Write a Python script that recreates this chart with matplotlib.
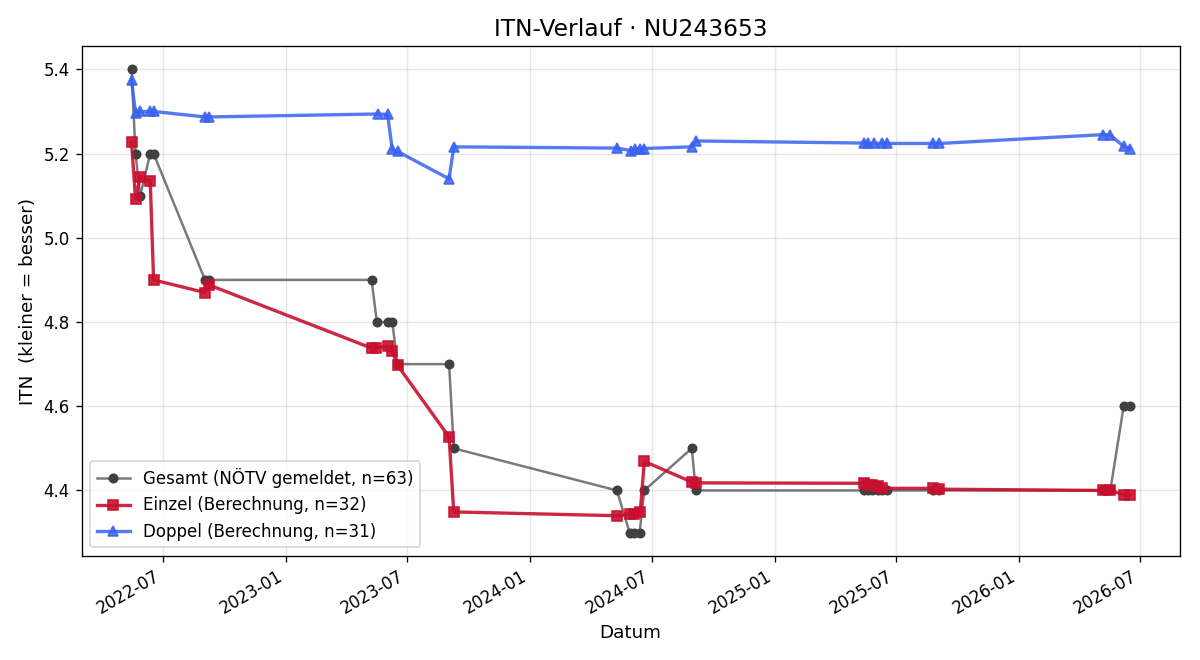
import matplotlib
matplotlib.use("Agg")
import matplotlib.pyplot as plt
import matplotlib.dates as mdates
import pandas as pd

# Gesamt (reported ITN, steps of 0.1)
gesamt_dates = [
    "2022-05-15", "2022-05-21", "2022-05-28", "2022-06-12", "2022-06-17", "2022-09-02", "2022-09-08",
    "2023-05-09", "2023-05-17", "2023-06-02", "2023-06-09", "2023-06-17", "2023-09-02", "2023-09-09",
    "2024-05-10", "2024-05-29", "2024-06-05", "2024-06-13", "2024-06-20", "2024-08-30", "2024-09-05",
    "2025-05-14", "2025-05-21", "2025-05-27", "2025-06-04", "2025-06-11", "2025-06-18", "2025-08-26", "2025-09-04",
    "2026-05-07", "2026-05-18", "2026-06-07", "2026-06-16",
]
gesamt_vals = [
    5.4, 5.2, 5.1, 5.2, 5.2, 4.9, 4.9,
    4.9, 4.8, 4.8, 4.8, 4.7, 4.7, 4.5,
    4.4, 4.3, 4.3, 4.3, 4.4, 4.5, 4.4,
    4.4, 4.4, 4.4, 4.4, 4.4, 4.4, 4.4, 4.4,
    4.4, 4.4, 4.6, 4.6,
]

# Einzel (computed)
einzel_dates = [
    "2022-05-15", "2022-05-21", "2022-05-28", "2022-06-12", "2022-06-17", "2022-09-02", "2022-09-08",
    "2023-05-09", "2023-05-16", "2023-06-02", "2023-06-09", "2023-06-17", "2023-09-02", "2023-09-09",
    "2024-05-10", "2024-05-29", "2024-06-05", "2024-06-14", "2024-06-20", "2024-08-30", "2024-09-05",
    "2025-05-14", "2025-05-21", "2025-05-27", "2025-06-04", "2025-06-11", "2025-08-26", "2025-09-04",
    "2026-05-07", "2026-05-18", "2026-06-07", "2026-06-16",
]
einzel_vals = [
    5.228, 5.092, 5.145, 5.135, 4.900, 4.870, 4.888,
    4.738, 4.739, 4.742, 4.730, 4.697, 4.527, 4.349,
    4.340, 4.343, 4.345, 4.350, 4.469, 4.420, 4.418,
    4.417, 4.412, 4.412, 4.410, 4.405, 4.405, 4.403,
    4.400, 4.400, 4.390, 4.390,
]

# Doppel (computed)
doppel_dates = [
    "2022-05-15", "2022-05-21", "2022-05-28", "2022-06-12", "2022-06-17", "2022-09-02", "2022-09-08",
    "2023-05-18", "2023-06-02", "2023-06-09", "2023-06-17", "2023-09-02", "2023-09-09",
    "2024-05-10", "2024-05-31", "2024-06-06", "2024-06-13", "2024-06-19", "2024-08-30", "2024-09-05",
    "2025-05-14", "2025-05-21", "2025-05-30", "2025-06-11", "2025-06-18", "2025-08-26", "2025-09-04",
    "2026-05-07", "2026-05-18", "2026-06-07", "2026-06-16",
]
doppel_vals = [
    5.375, 5.297, 5.300, 5.300, 5.300, 5.287, 5.287,
    5.294, 5.293, 5.210, 5.205, 5.140, 5.216,
    5.213, 5.207, 5.210, 5.212, 5.212, 5.216, 5.230,
    5.225, 5.224, 5.224, 5.224, 5.224, 5.224, 5.224,
    5.245, 5.244, 5.217, 5.212,
]

fig, ax = plt.subplots(figsize=(10, 5.5), dpi=120)

# gray line semi-transparent, markers solid dark
ax.plot(pd.to_datetime(gesamt_dates), gesamt_vals, color=(0.2, 0.2, 0.2, 0.65),
        marker="o", markersize=5, markerfacecolor="#404040", markeredgecolor="#404040",
        linewidth=1.5, label="Gesamt (NÖTV gemeldet, n=63)")
ax.plot(pd.to_datetime(einzel_dates), einzel_vals, color="#c8102e", alpha=0.9,
        marker="s", markersize=6, linewidth=2, label="Einzel (Berechnung, n=32)")
ax.plot(pd.to_datetime(doppel_dates), doppel_vals, color="#3a62f0", alpha=0.85,
        marker="^", markersize=6, linewidth=2, label="Doppel (Berechnung, n=31)")

ax.set_title("ITN-Verlauf · NU243653", fontsize=14)
ax.set_xlabel("Datum", fontsize=11)
ax.set_ylabel("ITN  (kleiner = besser)", fontsize=11)
ax.grid(True, alpha=0.3)
ax.xaxis.set_major_locator(mdates.MonthLocator(bymonth=[1, 7]))
ax.xaxis.set_major_formatter(mdates.DateFormatter("%Y-%m"))
ax.legend(loc="lower left", fontsize=10)
fig.autofmt_xdate()

fig.subplots_adjust(left=0.068, right=0.983, top=0.930, bottom=0.158)
fig.savefig("out.png", dpi=120)
